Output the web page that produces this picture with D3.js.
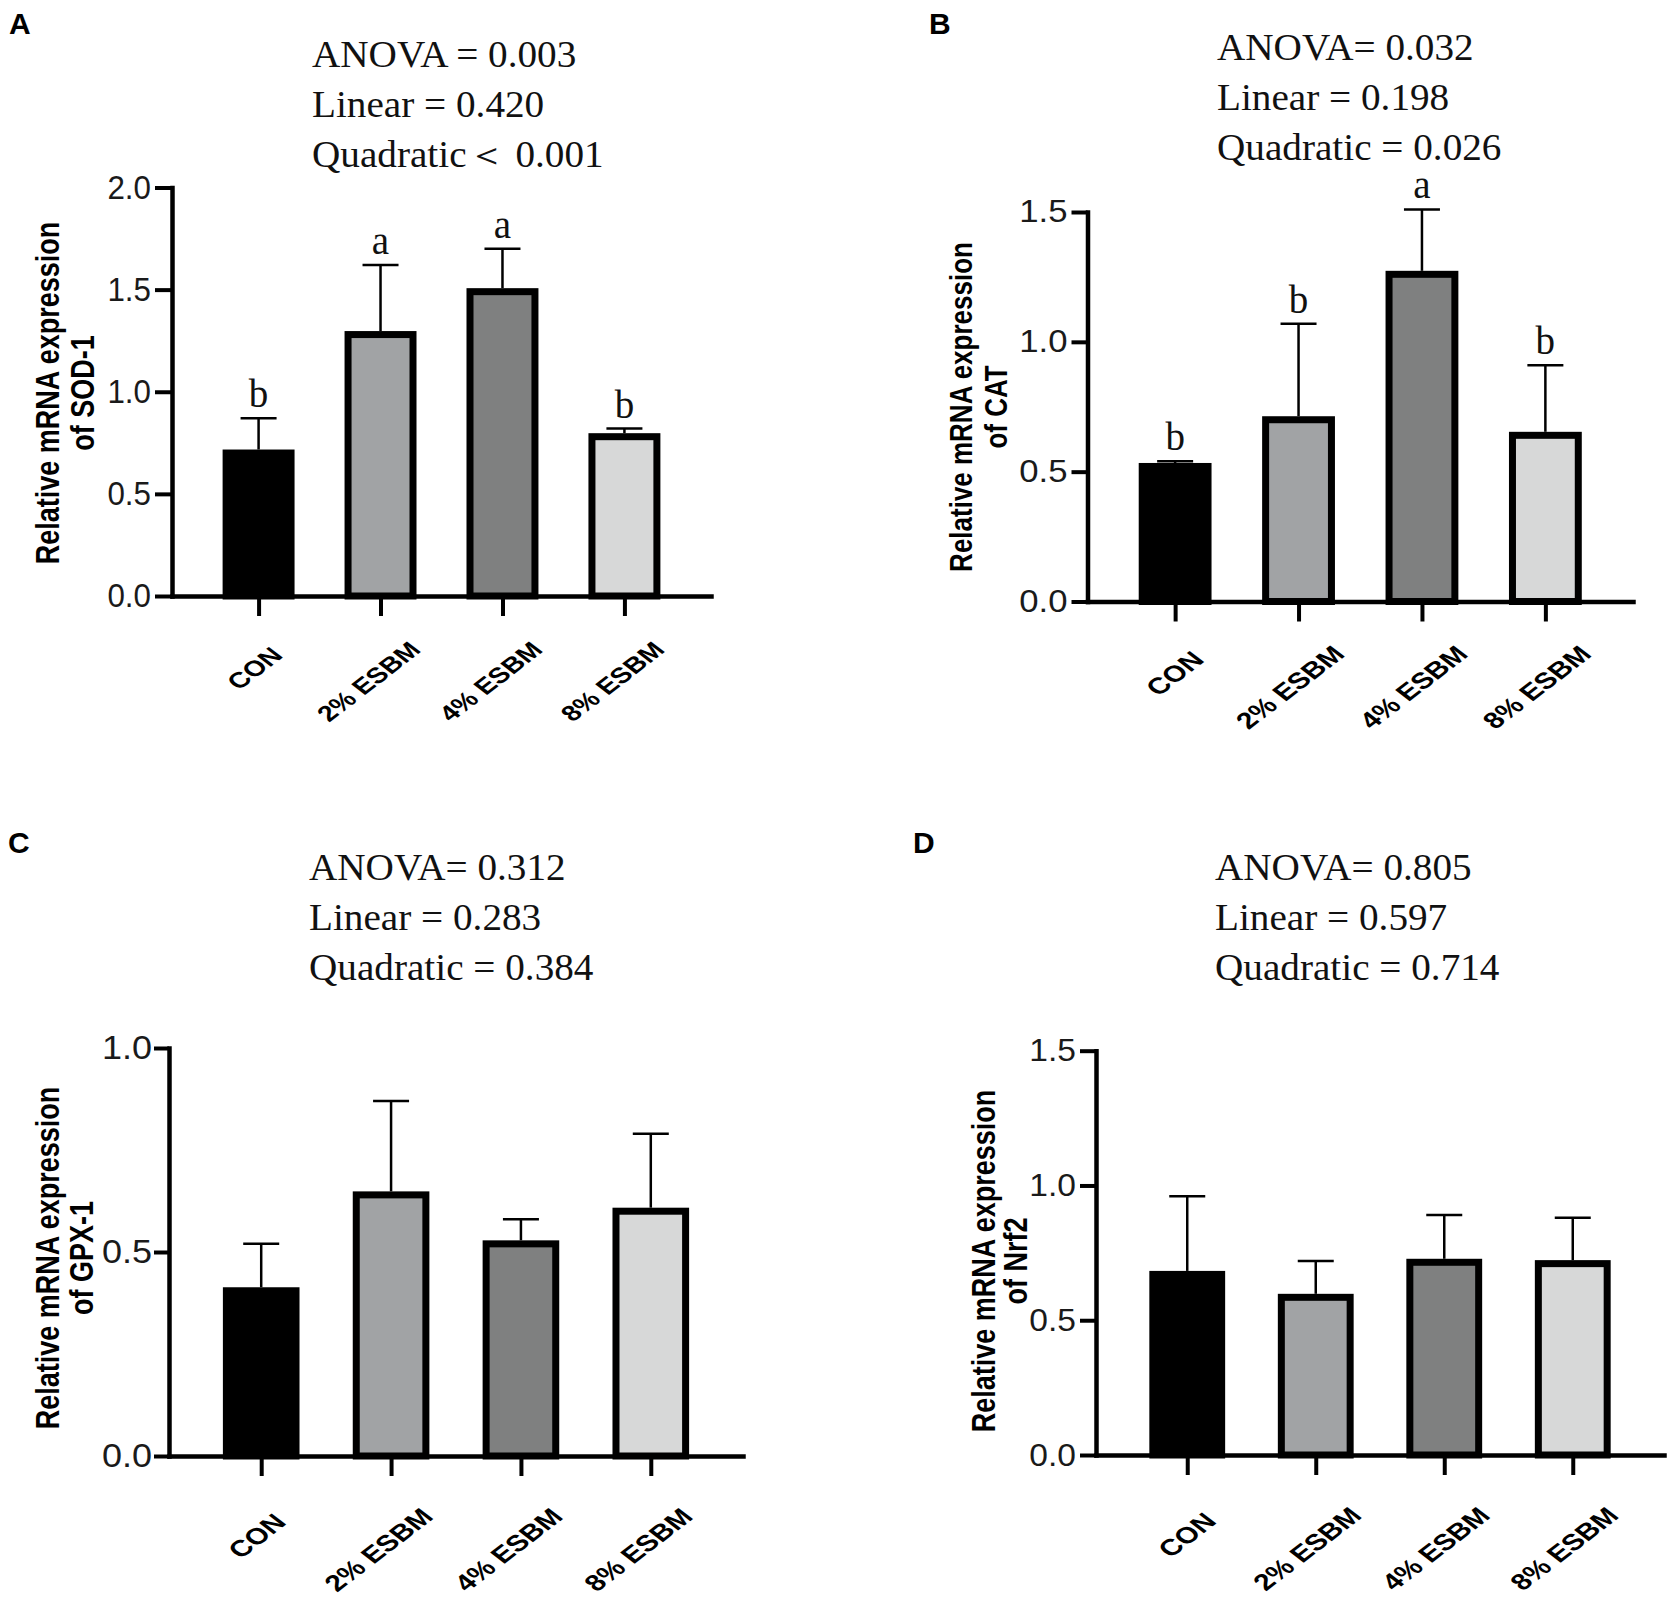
<!DOCTYPE html>
<html>
<head>
<meta charset="utf-8">
<script src="https://cdn.jsdelivr.net/npm/d3@7"></script>
<style>
  body { margin: 0; background: #fff; }
</style>
</head>
<body>
<div id="fig"></div>
<script>
// groups on the x axis
var categories = ["CON", "2% ESBM", "4% ESBM", "8% ESBM"];
var barColors = ["#000000", "#a1a3a5", "#7f8080", "#d7d8d8"];

// SOD-1
var sodMean = [0.70, 1.28, 1.49, 0.78];
var sodSd = [0.17, 0.34, 0.21, 0.04];
var sodLetters = ["b", "a", "a", "b"];
var sodStats = ["ANOVA = 0.003", "Linear = 0.420", "Quadratic\uFF1C 0.001"];
var sodTicks = [0, 0.5, 1.0, 1.5, 2.0];

// CAT
var catMean = [0.52, 0.70, 1.26, 0.64];
var catSd = [0.02, 0.37, 0.25, 0.27];
var catLetters = ["b", "b", "a", "b"];
var catStats = ["ANOVA= 0.032", "Linear = 0.198", "Quadratic = 0.026"];
var catTicks = [0, 0.5, 1.0, 1.5];

// GPX-1
var gpxMean = [0.405, 0.64, 0.52, 0.60];
var gpxSd = [0.115, 0.23, 0.06, 0.19];
var gpxLetters = [];
var gpxStats = ["ANOVA= 0.312", "Linear = 0.283", "Quadratic = 0.384"];
var gpxTicks = [0, 0.5, 1.0];

// Nrf2
var nrfMean = [0.67, 0.585, 0.715, 0.71];
var nrfSd = [0.29, 0.135, 0.175, 0.17];
var nrfLetters = [];
var nrfStats = ["ANOVA= 0.805", "Linear = 0.597", "Quadratic = 0.714"];
var nrfTicks = [0, 0.5, 1.0, 1.5];

var panels = [
  {tag: "A", gene: "SOD-1", mean: sodMean, sd: sodSd, letters: sodLetters, stats: sodStats, ticks: sodTicks,
   left: 172, right: 711, top: 187.5, bottom: 596, tagX: 9, tagY: 34,
   statsX: 312, statsY: 67, titleX: [47, 82], titleY: 393, titleFs: 27,
   tickFs: 33, tickSx: 0.95, tickLen: 17, tickPad: 4, xFs: 22, labDx: 3, labDy: 60},
  {tag: "B", gene: "CAT", mean: catMean, sd: catSd, letters: catLetters, stats: catStats, ticks: catTicks,
   left: 1087.5, right: 1633, top: 212, bottom: 601.5, tagX: 929, tagY: 34,
   statsX: 1217, statsY: 60, titleX: [961, 996], titleY: 407, titleFs: 26,
   tickFs: 31, tickSx: 1.12, tickLen: 16, tickPad: 4, xFs: 23, labDx: 7, labDy: 59},
  {tag: "C", gene: "GPX-1", mean: gpxMean, sd: gpxSd, letters: gpxLetters, stats: gpxStats, ticks: gpxTicks,
   left: 169, right: 743, top: 1048, bottom: 1456, tagX: 8, tagY: 853,
   statsX: 309, statsY: 880, titleX: [47, 81], titleY: 1258, titleFs: 27,
   tickFs: 34, tickSx: 1.06, tickLen: 15, tickPad: 2, xFs: 23, labDx: 3, labDy: 67},
  {tag: "D", gene: "Nrf2", mean: nrfMean, sd: nrfSd, letters: nrfLetters, stats: nrfStats, ticks: nrfTicks,
   left: 1096, right: 1664, top: 1050.7, bottom: 1455, tagX: 913, tagY: 853,
   statsX: 1215, statsY: 880, titleX: [983, 1015], titleY: 1261, titleFs: 27,
   tickFs: 32, tickSx: 1.05, tickLen: 16, tickPad: 4, xFs: 23, labDx: 7, labDy: 67}
];

var svg = d3.select("#fig").append("svg")
  .attr("width", 1677)
  .attr("height", 1612)
  .style("display", "block");

var sans = "'Liberation Sans', Arial, sans-serif";
var serif = "'Liberation Serif', 'Times New Roman', serif";

panels.forEach(function(p) {
  var g = svg.append("g");

  var x = d3.scalePoint()
    .domain(categories)
    .range([p.left, p.right])
    .padding(0.71);
  var y = d3.scaleLinear()
    .domain([0, d3.max(p.ticks)])
    .range([p.bottom, p.top]);

  var barW = x.step() * 0.59;
  var sw = 7;

  // bars
  g.selectAll(".bar")
    .data(p.mean)
    .enter().append("rect")
      .attr("x", function(d, i) { return x(categories[i]) - barW / 2 + sw / 2; })
      .attr("y", function(d) { return y(d); })
      .attr("width", barW - sw)
      .attr("height", function(d) { return y(0) - y(d); })
      .attr("fill", function(d, i) { return barColors[i]; })
      .attr("stroke", "#000")
      .attr("stroke-width", sw);

  // error bars (upper only)
  p.mean.forEach(function(m, i) {
    var cx = x(categories[i]);
    var yt = y(m + p.sd[i]);
    g.append("line")
      .attr("x1", cx).attr("x2", cx)
      .attr("y1", y(m) - sw / 2).attr("y2", yt)
      .attr("stroke", "#000")
      .attr("stroke-width", 2.5);
    g.append("line")
      .attr("x1", cx - 18).attr("x2", cx + 18)
      .attr("y1", yt).attr("y2", yt)
      .attr("stroke", "#000")
      .attr("stroke-width", 2.5);
    if (p.letters[i]) {
      g.append("text")
        .attr("x", cx)
        .attr("y", yt - 11)
        .attr("text-anchor", "middle")
        .style("font-family", serif)
        .style("font-size", "39px")
        .attr("fill", "#111")
        .text(p.letters[i]);
    }
  });

  // y axis
  var pivot = -(p.tickLen + p.tickPad);
  var yAxis = g.append("g")
    .attr("transform", "translate(" + p.left + ",0)")
    .call(d3.axisLeft(y)
      .tickValues(p.ticks)
      .tickFormat(d3.format(".1f"))
      .tickSize(p.tickLen)
      .tickSizeOuter(0)
      .tickPadding(p.tickPad));
  yAxis.select(".domain")
    .attr("stroke-width", 4.5)
    .attr("stroke-linecap", "square");
  yAxis.selectAll(".tick line").attr("stroke-width", 4);
  yAxis.selectAll(".tick text")
    .style("font-family", sans)
    .style("font-size", p.tickFs + "px")
    .attr("fill", "#1a1a1a")
    .attr("transform", "translate(" + pivot + ",0) scale(" + p.tickSx + ",1) translate(" + (-pivot) + ",0)");

  // x axis
  var xAxis = g.append("g")
    .attr("transform", "translate(0," + p.bottom + ")")
    .call(d3.axisBottom(x)
      .tickSize(20)
      .tickSizeOuter(0)
      .tickFormat(""));
  xAxis.select(".domain")
    .attr("stroke-width", 4.5)
    .attr("stroke-linecap", "square");
  xAxis.selectAll(".tick line").attr("stroke-width", 4);

  // rotated, slightly stretched category labels;
  // longer labels sit a bit further left and lower, as in the original
  categories.forEach(function(c) {
    var lg = g.append("g");
    var t = lg.append("text")
      .attr("text-anchor", "middle")
      .attr("dy", "0.36em")
      .style("font-family", sans)
      .style("font-weight", "bold")
      .style("font-size", p.xFs + "px")
      .attr("fill", "#000")
      .attr("transform", "scale(1.3,1) rotate(-45)")
      .text(c);
    var len = t.node().getComputedTextLength();
    var cx = x(c) + p.labDx - 0.15 * len;
    var cy = p.bottom + p.labDy + 0.25 * len;
    lg.attr("transform", "translate(" + cx + "," + cy + ")");
  });

  // y axis title, two lines
  ["Relative mRNA expression", "of " + p.gene].forEach(function(s, k) {
    g.append("text")
      .attr("transform", "translate(" + p.titleX[k] + "," + p.titleY + ") scale(1.2,1) rotate(-90)")
      .attr("text-anchor", "middle")
      .attr("dy", "0.36em")
      .style("font-family", sans)
      .style("font-weight", "bold")
      .style("font-size", p.titleFs + "px")
      .attr("fill", "#000")
      .text(s);
  });

  // statistics
  p.stats.forEach(function(s, k) {
    g.append("text")
      .attr("transform", "translate(" + p.statsX + "," + (p.statsY + k * 50) + ") scale(1.06,1)")
      .style("font-family", serif)
      .style("font-size", "37px")
      .attr("fill", "#111")
      .text(s);
  });

  // panel letter
  g.append("text")
    .attr("x", p.tagX)
    .attr("y", p.tagY)
    .style("font-family", sans)
    .style("font-weight", "bold")
    .style("font-size", "30px")
    .attr("fill", "#000")
    .text(p.tag);
});
</script>
</body>
</html>
